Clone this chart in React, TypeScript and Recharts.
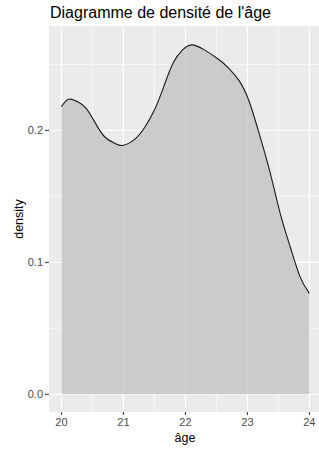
import React from 'react';
import { AreaChart, Area, XAxis, YAxis, CartesianGrid } from 'recharts';

const ages = [20.0, 20.07, 20.15, 20.27, 20.4, 20.55, 20.7, 20.87, 21.0, 21.2, 21.35, 21.5, 21.65, 21.8, 21.95, 22.1, 22.3, 22.55, 22.7, 22.86, 23.02, 23.2, 23.37, 23.53, 23.69, 23.85, 24.0];
const densities = [0.218, 0.2222, 0.2237, 0.2215, 0.2167, 0.2053, 0.195, 0.190, 0.1887, 0.194, 0.2027, 0.2154, 0.233, 0.2508, 0.2608, 0.2648, 0.2612, 0.2533, 0.247, 0.2381, 0.223, 0.196, 0.1674, 0.137, 0.1118, 0.089, 0.0765];

const xTicks = [20, 21, 22, 23, 24];
const xMinor = [20.5, 21.5, 22.5, 23.5];
const yTicks = [0, 0.1, 0.2];
const yMinor = [0.05, 0.15, 0.25];
const yTickLabels = ['0.0', '0.1', '0.2'];

const title = "Diagramme de densité de l'âge";
const xTitle = 'âge';
const yTitle = 'density';

const data = ages.map((a, i) => ({ age: a, density: densities[i] }));

const FONT = '"Liberation Sans", Arial, sans-serif';
const W = 319;
const H = 452;

export default function App() {
  return (
    <div style={{ position: 'absolute', left: 0, top: 0, width: W, height: H, background: '#fff' }}>
      <AreaChart width={W} height={H} data={data} margin={{ top: 26, right: 0, left: 0, bottom: 0 }}>
        <CartesianGrid
          fill="#EBEBEB"
          stroke="#ffffff"
          strokeWidth={0.6}
          horizontalValues={yMinor}
          verticalValues={xMinor}
        />
        <CartesianGrid
          stroke="#ffffff"
          strokeWidth={1.2}
          horizontalValues={yTicks}
          verticalValues={xTicks}
        />
        <XAxis
          dataKey="age"
          type="number"
          domain={[19.8, 24.155]}
          allowDataOverflow
          ticks={xTicks}
          axisLine={false}
          tickLine={{ stroke: '#333333' }}
          tickSize={3}
          tickMargin={3}
          height={40}
          tick={{ fill: '#4D4D4D', fontSize: 11, fontFamily: FONT }}
        />
        <YAxis
          type="number"
          domain={[-0.0134, 0.2791]}
          allowDataOverflow
          ticks={yTicks}
          tickFormatter={(v: number) => yTickLabels[yTicks.indexOf(v)] ?? String(v)}
          axisLine={false}
          tickLine={{ stroke: '#333333' }}
          tickSize={4}
          tickMargin={2}
          width={49}
          tick={{ fill: '#4D4D4D', fontSize: 11, fontFamily: FONT }}
        />
        <Area
          dataKey="density"
          type="natural"
          baseValue={0}
          fill="#C0C0C0"
          fillOpacity={0.75}
          stroke="#1a1a1a"
          strokeWidth={1.1}
          isAnimationActive={false}
          dot={false}
          activeDot={false}
        />
      </AreaChart>
      <svg width={W} height={H} style={{ position: 'absolute', left: 0, top: 0, pointerEvents: 'none' }}>
        <text x={50} y={17.5} fontSize={16} fontFamily={FONT} fill="#000">{title}</text>
        <text x={185} y={442} fontSize={12.5} fontFamily={FONT} fill="#000" textAnchor="middle">{xTitle}</text>
        <text
          x={0}
          y={0}
          fontSize={12.5}
          fontFamily={FONT}
          fill="#000"
          textAnchor="middle"
          transform="translate(23,219) rotate(-90)"
        >{yTitle}</text>
      </svg>
    </div>
  );
}
